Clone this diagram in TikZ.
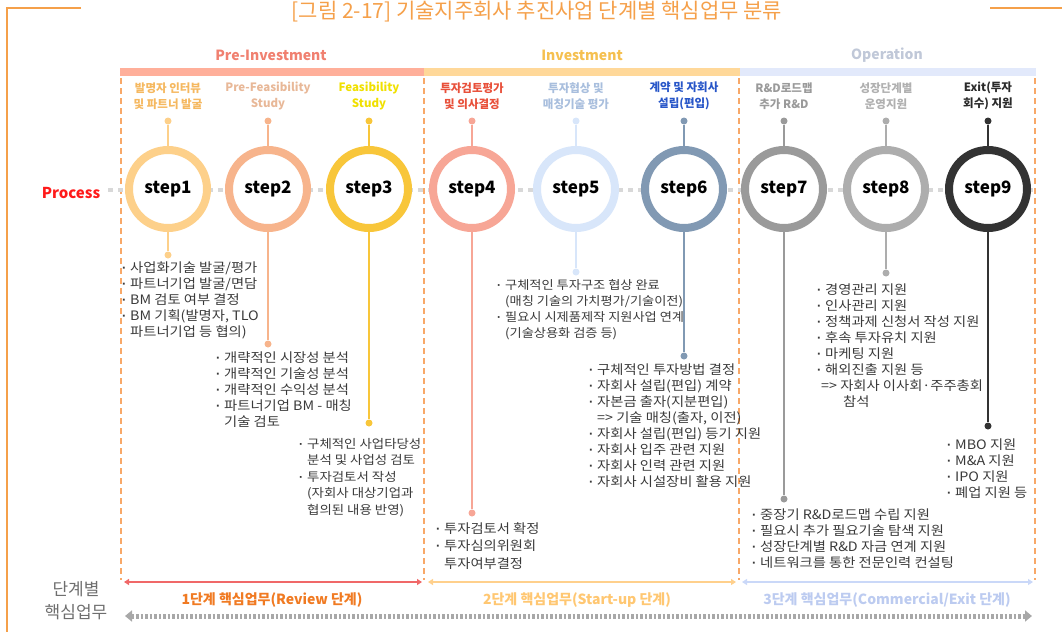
\documentclass[tikz,border=0pt]{standalone}
\usepackage{fontspec}
\setmainfont{Noto Sans CJK KR}
\newfontfamily\bodyf[FakeStretch=1.1]{Noto Sans CJK KR}
\newfontfamily\dotf{Liberation Sans}
\usetikzlibrary{arrows.meta}
\definecolor{ttl}{HTML}{F5A04A}
\definecolor{bodyc}{HTML}{3A3A3A}
\definecolor{dashc}{HTML}{F8A868}
\definecolor{cA}{HTML}{FDD08A}
\definecolor{cB}{HTML}{F7B48C}
\definecolor{cC}{HTML}{F8C63A}
\definecolor{cD}{HTML}{F7A696}
\definecolor{cE}{HTML}{D8E6FA}
\definecolor{cF}{HTML}{8199B3}
\definecolor{cG}{HTML}{9A9A9A}
\definecolor{cH}{HTML}{ADADAD}
\definecolor{cI}{HTML}{333333}
\definecolor{tA}{HTML}{F5B860}
\definecolor{tB}{HTML}{E8B898}
\definecolor{tC}{HTML}{F0E000}
\definecolor{tD}{HTML}{E8503A}
\definecolor{tE}{HTML}{A8BEDD}
\definecolor{tF}{HTML}{2856C8}
\definecolor{tG}{HTML}{9A9A9A}
\definecolor{tH}{HTML}{B0B0B0}
\definecolor{tI}{HTML}{2A2A2A}
\definecolor{ph1c}{HTML}{F08070}
\definecolor{ph2c}{HTML}{F5C050}
\definecolor{ph3c}{HTML}{C0C8D8}
\definecolor{bar1}{HTML}{FFAF9A}
\definecolor{bar2}{HTML}{FFD899}
\definecolor{bar3}{HTML}{E2E9FB}
\definecolor{procc}{HTML}{FF1A1A}
\definecolor{plc}{HTML}{D8D8D8}
\definecolor{ar1}{HTML}{F06868}
\definecolor{ar2}{HTML}{FFD08C}
\definecolor{ar3}{HTML}{CAD8F8}
\definecolor{gl1}{HTML}{F07A22}
\definecolor{gl2}{HTML}{FFC772}
\definecolor{gl3}{HTML}{BCCBF0}
\definecolor{sidec}{HTML}{6E6E6E}
\definecolor{botc}{HTML}{A8A8A8}
\newcommand{\bu}{\makebox[8pt][l]{\dotf\bfseries ·}}
\newcommand{\ind}{\hspace*{8pt}}
\begin{document}
\begin{tikzpicture}[x=1pt,y=-1pt,
  frame/.style={draw=ttl,line width=1.6pt},
  body/.style={anchor=north west,align=left,inner sep=0,text=bodyc,font=\bodyf\fontsize{13}{16}\selectfont},
  steplbl/.style={align=center,inner sep=0,font=\bfseries\fontsize{11.5}{16}\selectfont},
  ring/.style={circle,draw,line width=8pt,fill=white,minimum size=78pt,inner sep=0,font=\bfseries\fontsize{17}{20}\selectfont},
  pin/.style={circle,fill,inner sep=0,minimum size=7pt},
  conn/.style={line width=2.4pt},
  vdash/.style={draw=dashc,line width=1.5pt,dash pattern=on 6pt off 4pt},
  phase/.style={font=\bfseries\fontsize{14}{16}\selectfont},
  stagearr/.style={line width=2pt,{Triangle[length=5pt,width=6pt]}-{Triangle[length=5pt,width=6pt]}},
  stagelbl/.style={font=\bfseries\fontsize{14}{16}\selectfont}]
\useasboundingbox (0,0) rectangle (1062,632);
% frame and title
\draw[frame] (81,8) -- (7,8) -- (7,632);
\draw[frame] (990,8) -- (1062,8);
\node[text=ttl,font=\fontsize{21}{24}\selectfont] (title) at (537,12) {[그림 2-17] 기술지주회사 추진사업 단계별 핵심업무 분류};
% phase headers and bars
\node[phase,text=ph1c] (ph1) at (271,55) {Pre-Investment};
\node[phase,text=ph2c] (ph2) at (582,55) {Investment};
\node[phase,text=ph3c] (ph3) at (887,55) {Operation};
\fill[bar1] (120,68) rectangle (424,76);
\fill[bar2] (424,68) rectangle (740,76);
\fill[bar3] (740,68) rectangle (1036,76);
% dashed phase separators
\foreach \x in {121,424,739,1035} \draw[vdash] (\x,78) -- (\x,580);
% process line
\node[text=procc,font=\bfseries\fontsize{15}{18}\selectfont] (proc) at (71,193) {Process};
\coordinate (pl0) at (108,190);
\coordinate (pl1) at (1036,190);
\draw[plc,line width=4pt,dash pattern=on 5pt off 5pt] (pl0) -- (pl1);
% step labels
\node[steplbl,text=tA] (l1) at (168,96) {발명자 인터뷰\\및 파트너 발굴};
\node[steplbl,text=tB] (l2) at (268,96) {Pre-Feasibility\\Study};
\node[steplbl,text=tC] (l3) at (369,96) {Feasibility\\Study};
\node[steplbl,text=tD] (l4) at (472,96) {투자검토평가\\및 의사결정};
\node[steplbl,text=tE] (l5) at (576,96) {투자협상 및\\매칭기술 평가};
\node[steplbl,text=tF] (l6) at (684,96) {계약 및 자회사\\설립(편입)};
\node[steplbl,text=tG] (l7) at (784,96) {R\&D로드맵\\추가 R\&D};
\node[steplbl,text=tH] (l8) at (886,96) {성장단계별\\운영지원};
\node[steplbl,text=tI] (l9) at (988,96) {Exit(투자\\회수) 지원};
% pins and end dots
\foreach \i/\x/\y/\c in {1/168/255/cA,2/268/344/cB,3/369/423/cC,4/472/513/cD,5/576/272/cE,6/684/356/cF,7/784/499/cG,8/886/273/cH,9/988/426/cI}{
  \node[pin,fill=\c] (p\i) at (\x,121) {};
  \node[pin,fill=\c] (d\i) at (\x,\y) {};
  \draw[conn,draw=\c] (p\i) -- (d\i);
}
% rings
\node[ring,draw=cA] (s1) at (168,189) {step1};
\node[ring,draw=cB] (s2) at (268,189) {step2};
\node[ring,draw=cC] (s3) at (369,189) {step3};
\node[ring,draw=cD] (s4) at (472,189) {step4};
\node[ring,draw=cE] (s5) at (576,189) {step5};
\node[ring,draw=cF] (s6) at (684,189) {step6};
\node[ring,draw=cG] (s7) at (784,189) {step7};
\node[ring,draw=cH] (s8) at (886,189) {step8};
\node[ring,draw=cI] (s9) at (988,189) {step9};
% bodies
\node[body] (b1) at (122,262) {\bu 사업화기술 발굴/평가\\\bu 파트너기업 발굴/면담\\\bu BM 검토 여부 결정\\\bu BM 기획(발명자, TLO\\\ind 파트너기업 등 협의)};
\node[body] (b2) at (216,352) {\bu 개략적인 시장성 분석\\\bu 개략적인 기술성 분석\\\bu 개략적인 수익성 분석\\\bu 파트너기업 BM - 매칭\\\ind 기술 검토};
\node[body,font=\bodyf\fontsize{12.2}{16.5}\selectfont] (b3) at (299,438) {\bu 구체적인 사업타당성\\\ind 분석 및 사업성 검토\\\bu 투자검토서 작성\\\ind (자회사 대상기업과\\\ind 협의된 내용 반영)};
\node[body,font=\bodyf\fontsize{13}{17.5}\selectfont] (b4) at (436,522) {\bu 투자검토서 확정\\\bu 투자심의위원회\\\ind 투자여부결정};
\node[body,font=\bodyf\fontsize{12}{16}\selectfont] (b5) at (497,279) {\bu 구체적인 투자구조 협상 완료\\\ind (매칭 기술의 가치평가/기술이전)\\\bu 필요시 시제품제작 지원사업 연계\\\ind (기술상용화 검증 등)};
\node[body] (b6) at (589,364) {\bu 구체적인 투자방법 결정\\\bu 자회사 설립(편입) 계약\\\bu 자본금 출자(지분편입)\\\ind => 기술 매칭(출자, 이전)\\\bu 자회사 설립(편입) 등기 지원\\\bu 자회사 입주 관련 지원\\\bu 자회사 인력 관련 지원\\\bu 자회사 시설장비 활용 지원};
\node[body] (b7) at (752,509) {\bu 중장기 R\&D로드맵 수립 지원\\\bu 필요시 추가 필요기술 탐색 지원\\\bu 성장단계별 R\&D 자금 연계 지원\\\bu 네트워크를 통한 전문인력 컨설팅};
\node[body] (b8) at (817,284) {\bu 경영관리 지원\\\bu 인사관리 지원\\\bu 정책과제 신청서 작성 지원\\\bu 후속 투자유치 지원\\\bu 마케팅 지원\\\bu 해외진출 지원 등\\\hspace*{4pt}=> 자회사 이사회·주주총회\\\hspace*{26pt}참석};
\node[body] (b9) at (947,439) {\bu MBO 지원\\\bu M\&A 지원\\\bu IPO 지원\\\bu 폐업 지원 등};
% bottom stage arrows
\coordinate (a1s) at (124,582); \coordinate (a1e) at (422,582);
\coordinate (a2s) at (428,582); \coordinate (a2e) at (736,582);
\coordinate (a3s) at (742,582); \coordinate (a3e) at (1033,582);
\draw[stagearr,ar1] (a1s) -- (a1e);
\draw[stagearr,ar2] (a2s) -- (a2e);
\draw[stagearr,ar3] (a3s) -- (a3e);
\node[stagelbl,text=gl1] (g1) at (272,600) {1단계 핵심업무(Review 단계)};
\node[stagelbl,text=gl2] (g2) at (577,600) {2단계 핵심업무(Start-up 단계)};
\node[stagelbl,text=gl3] (g3) at (887,600) {3단계 핵심업무(Commercial/Exit 단계)};
\node[align=center,text=sidec,font=\fontsize{17}{23}\selectfont] (side) at (76,601) {단계별\\핵심업무};
% bottom dotted double arrow
\coordinate (z0) at (125,616); \coordinate (z1) at (1032,616);
\draw[botc,line width=5pt,dash pattern=on 2.5pt off 2pt,{Triangle[length=7pt,width=11pt]}-{Triangle[length=7pt,width=11pt]}] (z0) -- (z1);
\end{tikzpicture}
\end{document}
